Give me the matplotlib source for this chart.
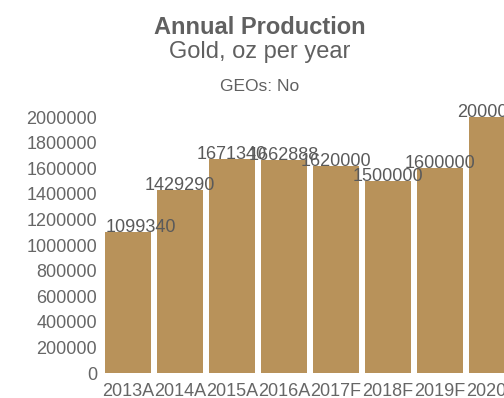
import numpy as np
import matplotlib
matplotlib.use("Agg")
import matplotlib.pyplot as plt
plt.rcParams.update({'font.family': ['Liberation Sans', 'DejaVu Sans']})

# data
years = ['2013A', '2014A', '2015A', '2016A', '2017F', '2018F', '2019F', '2020F']
production = [1099340, 1429290, 1671340, 1662888, 1620000, 1500000, 1600000, 2000000]
yticks = np.arange(0, 2000001, 200000)

W, H = 504, 398
fig = plt.figure(figsize=(W / 100, H / 100), dpi=100)
ax = fig.add_axes([102 / W, 25 / H, 416 / W, 256 / H])

x = np.arange(len(years))
ax.bar(x, production, width=0.885, color='#b8925a')
ax.set_xlim(-0.5, len(years) - 0.5)
ax.set_ylim(0, 2000000)
ax.set_xticks(x)
ax.set_xticklabels(years)
ax.set_yticks(yticks)
ax.set_yticklabels([str(v) for v in yticks])
ax.tick_params(length=0, labelsize=13, colors='#666666')
ax.tick_params(axis='y', pad=3.6)
ax.tick_params(axis='x', pad=7)
for s in ax.spines.values():
    s.set_visible(False)

# value labels (first one nudged right like the original)
for i, v in enumerate(production):
    dx = 9 if i == 0 else 0
    ax.annotate(str(v), (i, v), xytext=(dx, 0), textcoords='offset points',
                ha='center', va='baseline', fontsize=13, color='#5a5a5a',
                annotation_clip=False)

cx = 260 / W
fig.text(cx, 1 - 34 / H, 'Annual Production', ha='center', va='baseline',
         fontsize=17, fontweight='bold', color='#606060')
fig.text(cx, 1 - 58 / H, 'Gold, oz per year', ha='center', va='baseline',
         fontsize=17, color='#606060')
fig.text(cx, 1 - 91 / H, 'GEOs: No', ha='center', va='baseline',
         fontsize=12.5, color='#606060')

fig.savefig('out.png', dpi=100)
